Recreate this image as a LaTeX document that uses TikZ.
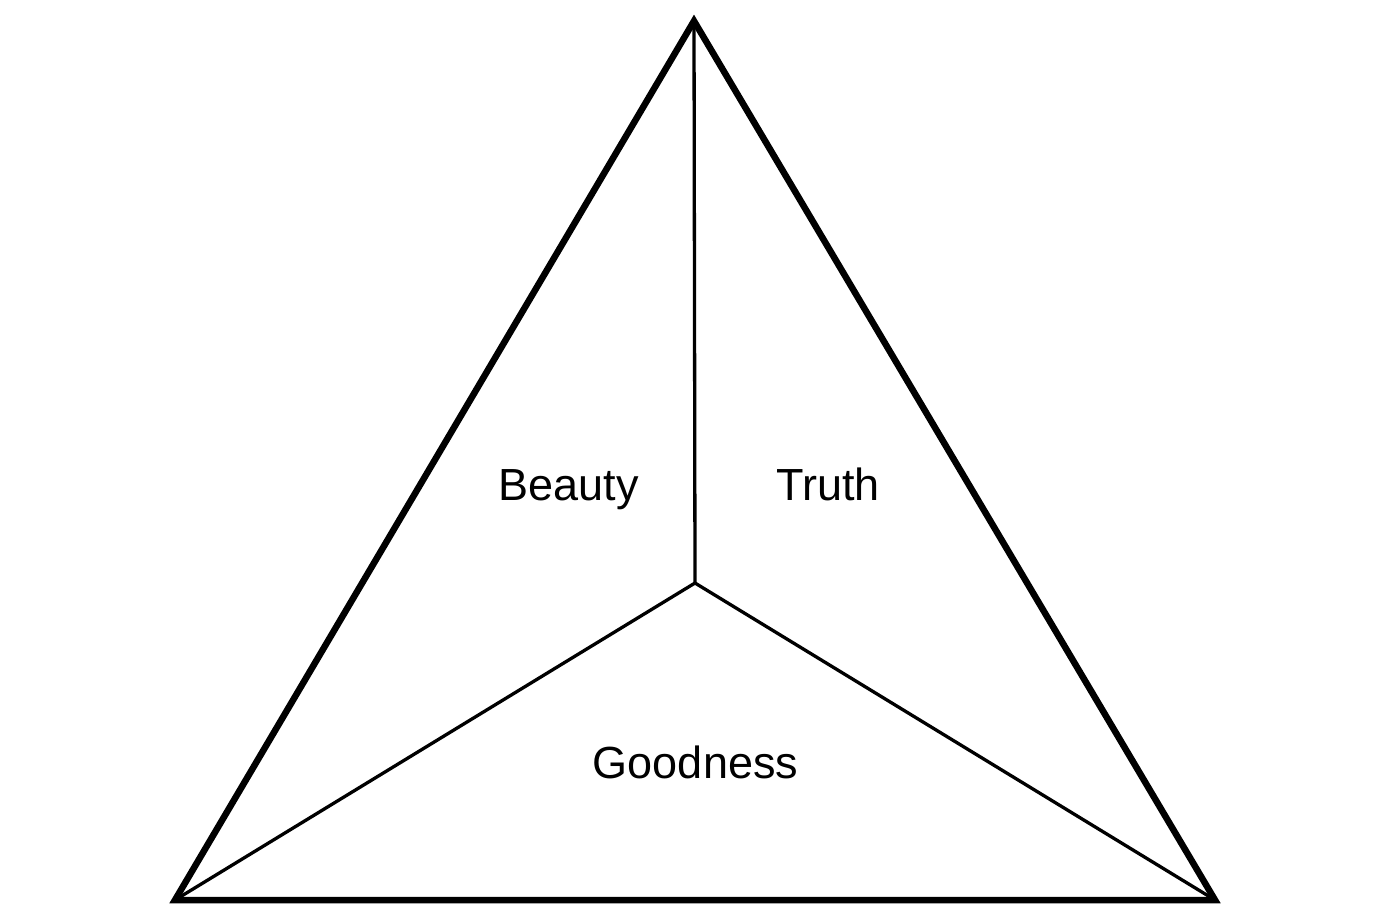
\documentclass[tikz,border=0pt]{standalone}
\usepackage{fontspec}
\setmainfont{Liberation Sans}
\begin{document}
\begin{tikzpicture}[x=1pt,y=-1pt,
  outer/.style={line width=6.5pt,line join=miter},
  inner/.style={line width=3.3pt},
  lbl/.style={anchor=base,inner sep=0pt,font=\fontsize{45}{50}\selectfont}]
\useasboundingbox (0,0) rectangle (1400,921);
\coordinate (A) at (694,21);
\coordinate (L) at (175,900);
\coordinate (R) at (1215,900);
\coordinate (C) at (695,583);
\draw[inner] (A) -- (C);
\draw[inner] (L) -- (C) -- (R);
\draw[outer] (A) -- (L) -- (R) -- cycle;
\node[lbl] (beauty) at (568.5,500) {Beauty};
\node[lbl] (truth) at (828,500) {Truth};
\node[lbl] (goodness) at (695.5,778) {Goodness};
\end{tikzpicture}
\end{document}
